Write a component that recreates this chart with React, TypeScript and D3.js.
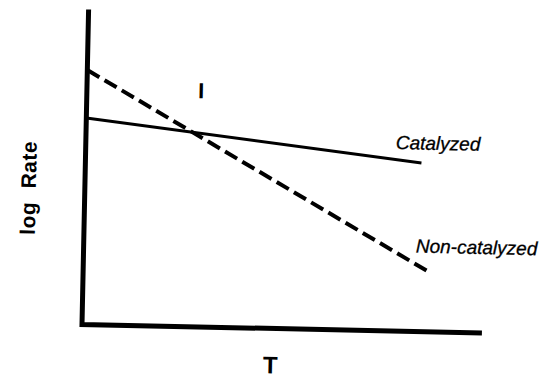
import React from 'react'
import * as d3 from 'd3'

// values, arbitrary units (0..100 on both axes)
const seriesNames = ['Catalyzed', 'Non-catalyzed']
const tValues = [0, 85]
const catalyzed = [65.6, 53.5]
const nonCatalyzed = [80.8, 18.7]
const tEnd = [84, 86.8]

const width = 550
const height = 387
const origin = { x: 82, y: 324.5 }
const tilt = 1.2 // the scan is slightly rotated

function App() {
  const x = d3.scaleLinear().domain([0, 100]).range([0, 400])
  const y = d3.scaleLinear().domain([0, 100]).range([0, -315])

  const line = d3.line<[number, number]>()
    .x(d => x(d[0]))
    .y(d => y(d[1]))

  const cat: [number, number][] = [[tValues[0], catalyzed[0]], [tEnd[0], catalyzed[1]]]
  const non: [number, number][] = [[tValues[0], nonCatalyzed[0]], [tEnd[1], nonCatalyzed[1]]]

  // crossing point of the two lines, for the "I" mark
  const s1 = (catalyzed[1] - catalyzed[0]) / tEnd[0]
  const s2 = (nonCatalyzed[1] - nonCatalyzed[0]) / tEnd[1]
  const tx = (catalyzed[0] - nonCatalyzed[0]) / (s2 - s1)
  const ty = catalyzed[0] + s1 * tx

  const axisPath = `M${x(0)},${y(100)} L${x(0)},${y(0)} L${x(100)},${y(0)}`

  return (
    <svg width={width} height={height} style={{ position: 'absolute', left: 0, top: 0, background: '#fff' }}>
      <g transform={`translate(${origin.x},${origin.y}) rotate(${tilt})`}>
        <path d={axisPath} fill="none" stroke="#000" strokeWidth={5} strokeLinejoin="miter" />

        <path d={line(cat) || ''} fill="none" stroke="#000" strokeWidth={3} />
        <path d={line(non) || ''} fill="none" stroke="#000" strokeWidth={4} strokeDasharray="14 6" />

        <text x={x(tEnd[0]) - 26} y={y(catalyzed[1]) - 13.5}
          fontFamily="'Liberation Sans', Arial, sans-serif" fontStyle="italic" fontSize={19}
          stroke="#000" strokeWidth={0.3}>
          {seriesNames[0]}
        </text>
        <text x={x(tEnd[1]) - 15} y={y(nonCatalyzed[1]) - 20}
          fontFamily="'Liberation Sans', Arial, sans-serif" fontStyle="italic" fontSize={19}
          stroke="#000" strokeWidth={0.3}>
          {seriesNames[1]}
        </text>

        <text x={x(tx) + 8} y={y(ty) - 34} textAnchor="middle"
          fontFamily="'Liberation Sans', Arial, sans-serif" fontWeight="bold" fontSize={22}>I</text>

        <text x={189} y={45} textAnchor="middle"
          fontFamily="'Liberation Sans', Arial, sans-serif" fontWeight="bold" fontSize={24}>T</text>

        <text transform="translate(-49,-135.5) rotate(-90)" textAnchor="middle"
          fontFamily="'Liberation Sans', Arial, sans-serif" fontWeight="bold" fontSize={21}
          style={{ letterSpacing: '0.5px', wordSpacing: '7px' }}>log Rate</text>
      </g>
    </svg>
  )
}

export default App
